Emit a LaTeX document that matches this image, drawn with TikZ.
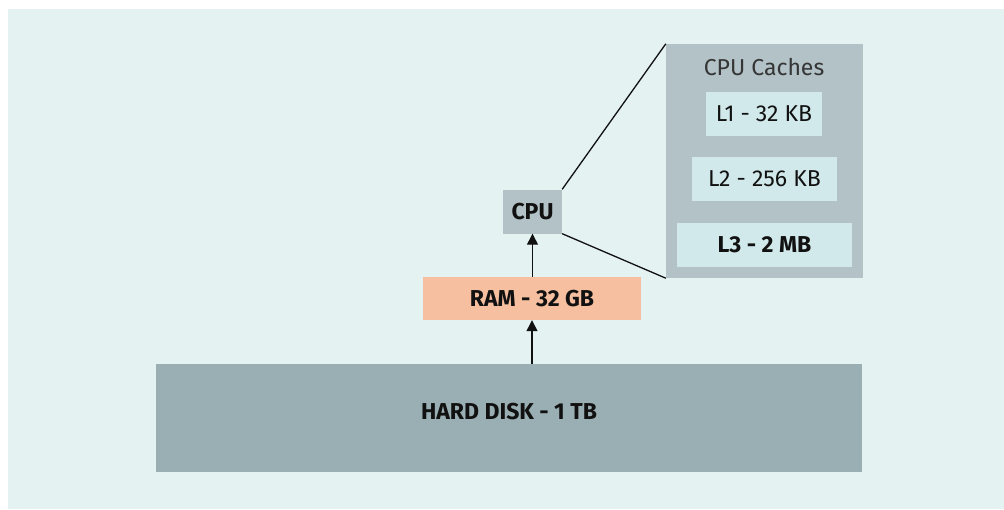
\documentclass[tikz,border=0pt]{standalone}
\usepackage{fontspec}
\setmainfont{Fira Sans}
\usetikzlibrary{arrows.meta}
\definecolor{bg}{HTML}{E4F2F2}
\definecolor{disk}{HTML}{9AAFB3}
\definecolor{ram}{HTML}{F5BFA0}
\definecolor{cpu}{HTML}{B2C2C6}
\definecolor{cache}{HTML}{D2E9EB}
\definecolor{ink}{HTML}{111111}
\tikzset{
  box/.style={rectangle, inner sep=0pt, text=ink},
  strong/.style={font=\fontsize{23}{27}\selectfont\bfseries},
  plain/.style={font=\fontsize{23}{27}\selectfont},
  conn/.style={draw=ink, line width=1.3pt},
  arr/.style={conn, -{Triangle[length=11pt,width=11pt]}}
}
\begin{document}
\begin{tikzpicture}[x=1pt,y=-1pt]
\useasboundingbox (0,0) rectangle (1004,509);
\fill[white] (0,0) rectangle (1004,509);
\fill[bg] (8,9) rectangle (1004,509);
\node[box, strong, fill=disk, minimum width=706pt, minimum height=108pt, text depth=14pt] (disk) at (509,418) {HARD DISK - 1 TB};
\node[box, strong, fill=ram, minimum width=218pt, minimum height=43pt] (ram) at (532,298.5) {RAM - 32 GB};
\node[box, strong, fill=cpu, minimum width=59pt, minimum height=44pt] (cpu) at (532.5,211.5) {CPU};
\node[box, fill=cpu, minimum width=197pt, minimum height=234pt] (caches) at (764.5,161) {};
\node[box, plain, text=ink!85] (title) at (764,67) {CPU Caches};
\node[box, plain, fill=cache, minimum width=116pt, minimum height=44pt] (l1) at (764,114) {L1 - 32 KB};
\node[box, plain, fill=cache, minimum width=145pt, minimum height=44pt] (l2) at (764.5,179) {L2 - 256 KB};
\node[box, strong, fill=cache, minimum width=175pt, minimum height=44pt] (l3) at (764.5,245) {L3 - 2 MB};
\draw[conn] (cpu.north east) -- (caches.north west);
\draw[conn] (cpu.south east) -- (caches.south west);
\draw[arr] (ram.north -| cpu.south) -- (cpu.south);
\draw[arr] (disk.north -| ram.south) -- (ram.south);
\end{tikzpicture}
\end{document}
